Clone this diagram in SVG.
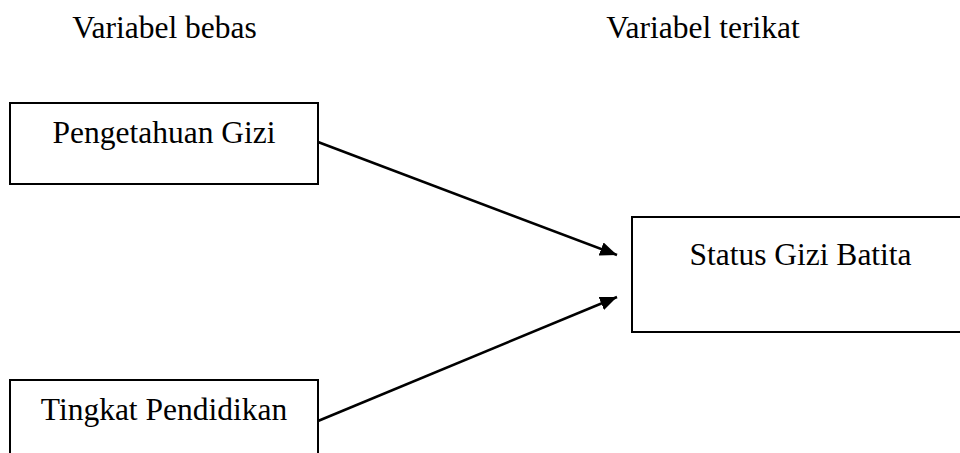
<svg xmlns="http://www.w3.org/2000/svg" width="960" height="453" viewBox="0 0 960 453">
<style>
text{font-family:"Liberation Serif","Times New Roman",serif;font-size:31.5px;fill:#000;text-anchor:middle}
.box{fill:#fff;stroke:#000;stroke-width:2}
.edge{stroke:#000;stroke-width:2.5;fill:none}
</style>
<defs>
<marker id="arr" markerUnits="userSpaceOnUse" markerWidth="18" markerHeight="14" refX="17" refY="7" orient="auto">
<path d="M0,0 L17,7 L0,14 Z" fill="#000"/>
</marker>
</defs>
<rect width="960" height="453" fill="#fff"/>
<g id="hdr-bebas"><text x="164.5" y="38">Variabel bebas</text></g>
<g id="hdr-terikat"><text x="703" y="38">Variabel terikat</text></g>
<g id="n-pengetahuan"><rect class="box" x="10" y="103" width="308" height="81"/><text x="164" y="143">Pengetahuan Gizi</text></g>
<g id="n-pendidikan"><rect class="box" x="10" y="380" width="308" height="90"/><text x="164" y="420">Tingkat Pendidikan</text></g>
<g id="n-status"><rect class="box" x="632" y="217" width="340" height="115"/><text x="800.5" y="265">Status Gizi Batita</text></g>
<g id="connectors">
<line class="edge" x1="318" y1="142" x2="617" y2="255" marker-end="url(#arr)"/>
<line class="edge" x1="318" y1="421" x2="617" y2="297" marker-end="url(#arr)"/>
</g>
</svg>
